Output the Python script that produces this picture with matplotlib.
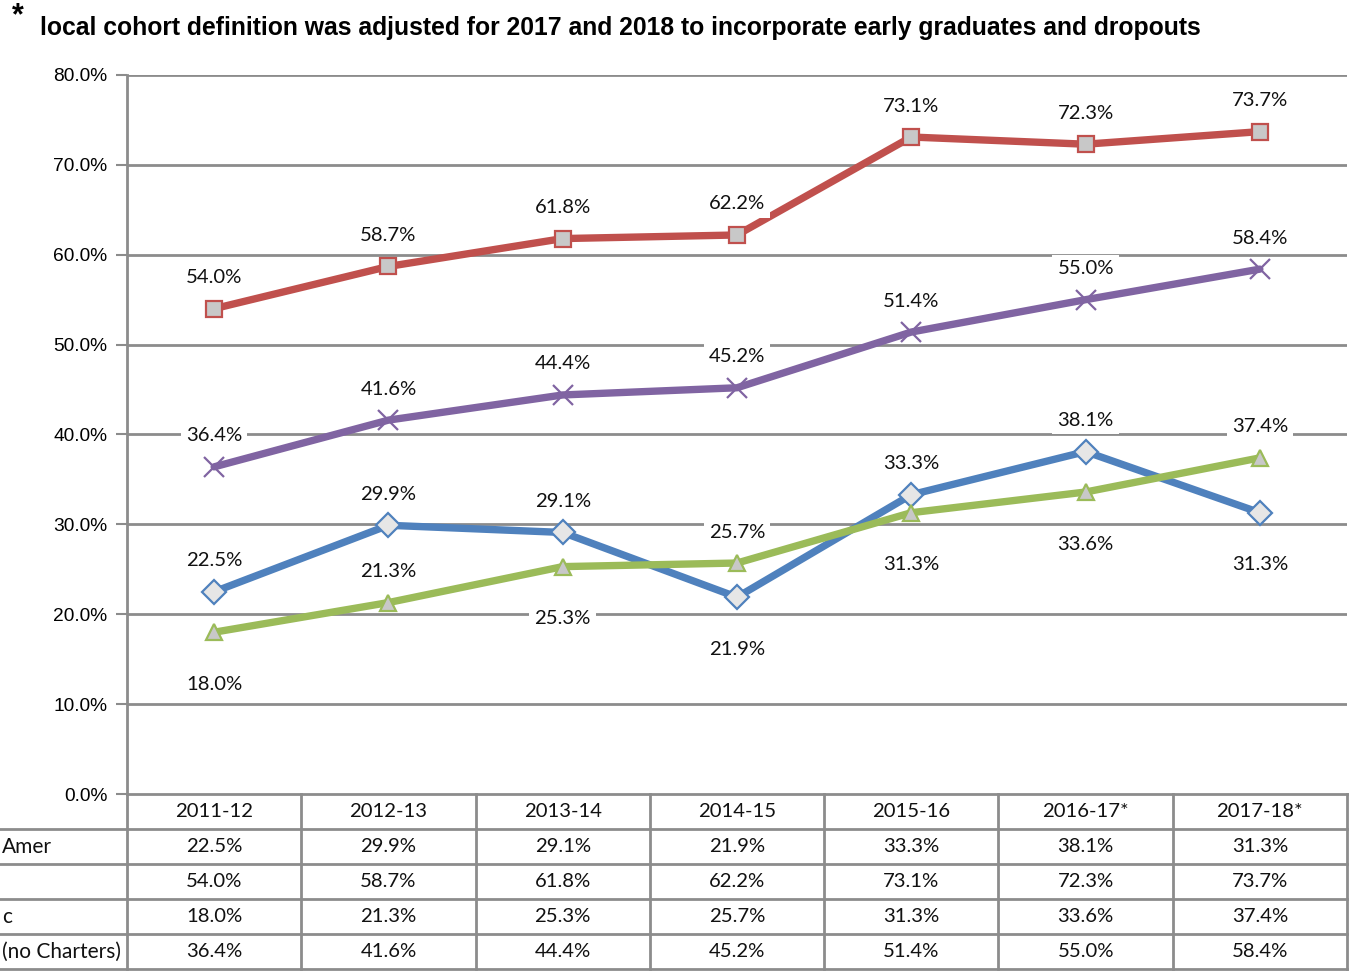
import matplotlib.pyplot as plt
import numpy as np

# school years and graduation rates per group
years = ["2011-12", "2012-13", "2013-14", "2014-15", "2015-16", "2016-17*", "2017-18*"]
row_labels = ["Amer", "", "c", "(no Charters)"]
blue_rates = [22.5, 29.9, 29.1, 21.9, 33.3, 38.1, 31.3]
red_rates = [54.0, 58.7, 61.8, 62.2, 73.1, 72.3, 73.7]
green_rates = [18.0, 21.3, 25.3, 25.7, 31.3, 33.6, 37.4]
purple_rates = [36.4, 41.6, 44.4, 45.2, 51.4, 55.0, 58.4]
y_ticks = [0, 10, 20, 30, 40, 50, 60, 70, 80]

series = [
    (blue_rates, "#4F81BD", "D", "#E6E6E6", ["a", "a", "a", "b", "a", "a", "b"]),
    (red_rates, "#C0504D", "s", "#C8C8C8", ["a"] * 7),
    (green_rates, "#9BBB59", "^", "#C8C8C8", ["b", "a", "b", "a", "b", "b", "a"]),
    (purple_rates, "#8064A2", "x", "none", ["a"] * 7),
]

label_font = "Lato"
axis_font = "Liberation Sans"
grid_col = "#8C8C8C"

fig = plt.figure(figsize=(13.52, 9.72), dpi=100)
ax = fig.add_axes([127 / 1352, 1 - 794 / 972, 1220 / 1352, 719 / 972])

x = np.arange(len(years))
for vals, col, mk, fill, pos in series:
    ax.plot(x, vals, color=col, lw=5.3, solid_capstyle="round", zorder=3,
            marker=mk, markersize=12 if mk != "x" else 14,
            markerfacecolor=fill, markeredgecolor=col, markeredgewidth=1.6)
    for xi, v, p in zip(x, vals, pos):
        dy = 31 if p == "a" else -52
        ax.annotate(f"{v:.1f}%", (xi, v), xytext=(0, dy), textcoords="offset pixels",
                    ha="center", va="center", fontsize=14.6, family=label_font,
                    color="#111111", zorder=5,
                    bbox=dict(boxstyle="square,pad=0.25", fc="white", ec="none"))

ax.set_xlim(-0.5, len(years) - 0.5)
ax.set_ylim(0, 80)
ax.set_yticks(y_ticks)
ax.set_yticklabels([f"{t:.1f}%" for t in y_ticks], fontsize=13.8, family=axis_font)
ax.set_xticks([])
ax.tick_params(axis="y", length=8, width=1.5, color=grid_col, pad=6)
for t in y_ticks[1:]:
    ax.axhline(t, color=grid_col, lw=2, zorder=1)
for side in ["top", "right", "bottom"]:
    ax.spines[side].set_visible(False)
ax.spines["left"].set_color(grid_col)
ax.spines["left"].set_linewidth(2)

# data table under the plot, in axes fraction y and data x
row_h = 35 / 719
tr = ax.get_xaxis_transform()
n_rows = len(row_labels)
left_edge = -0.5 - 127 / (1220 / 7)
line_kw = dict(color=grid_col, lw=2, transform=tr, clip_on=False)

ax.plot([-0.5, 6.5], [0, 0], **line_kw)
for r in range(n_rows + 1):
    yy = -row_h * (r + 1)
    ax.plot([left_edge, 6.5], [yy, yy], **line_kw)
for c in range(len(years) + 1):
    ax.plot([c - 0.5, c - 0.5], [0, -row_h * (n_rows + 1)], **line_kw)

for c, yr in enumerate(years):
    ax.text(c, -row_h * 0.5, yr, transform=tr, ha="center", va="center",
            fontsize=14.6, family=label_font, color="#111111")

table_rows = [blue_rates, red_rates, green_rates, purple_rates]
for r, (lab, vals) in enumerate(zip(row_labels, table_rows)):
    yy = -row_h * (r + 1.5)
    ax.text(left_edge + 0.01, yy, lab, transform=tr, ha="left", va="center",
            fontsize=15, family=label_font, color="#111111")
    for c, v in enumerate(vals):
        ax.text(c, yy, f"{v:.1f}%", transform=tr, ha="center", va="center",
                fontsize=14.6, family=label_font, color="#111111")

fig.text(12 / 1352, 1 - 16 / 972, "*", fontsize=22, fontweight="bold",
         family=axis_font, ha="left", va="center")
fig.text(40 / 1352, 1 - 28 / 972,
         "local cohort definition was adjusted for 2017 and 2018 to incorporate early graduates and dropouts",
         fontsize=17.8, fontweight="bold", family=axis_font, ha="left", va="center")

fig.savefig("out.png", dpi=100)
